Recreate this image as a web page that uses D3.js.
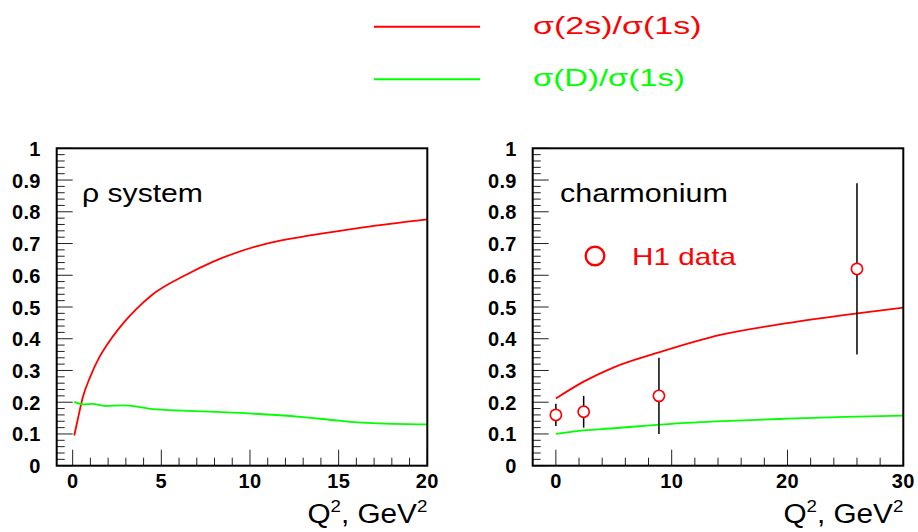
<!DOCTYPE html>
<html>
<head>
<meta charset="utf-8">
<script src="https://cdn.jsdelivr.net/npm/d3@7"></script>
<style>
  body { margin: 0; background: #fff; }
  svg { display: block; font-family: "Liberation Sans", Arial, Helvetica, sans-serif; }
</style>
</head>
<body>
<div id="chart"></div>
<script>
// rho system curves (Q^2 in GeV^2, ratio)
const rho2sQ = [0.09, 0.28, 0.58, 0.99, 1.47, 1.93, 2.69, 3.53, 4.47, 6.35, 7.93, 10.94, 13.57, 16.39, 20]
const rho2sR = [0.095, 0.144, 0.217, 0.28, 0.338, 0.38, 0.438, 0.49, 0.538, 0.6, 0.643, 0.7, 0.727, 0.751, 0.776]
const rhoDQ = [0.09, 0.62, 1.09, 1.84, 2.88, 3.64, 4.39, 6.46, 9.06, 12.82, 15, 16.6, 20]
const rhoDR = [0.201, 0.193, 0.195, 0.188, 0.19, 0.186, 0.179, 0.173, 0.167, 0.154, 0.142, 0.135, 0.13]

// charmonium curves
const psi2sQ = [0, 2.4, 5, 8.9, 14.2, 20, 25, 30]
const psi2sR = [0.212, 0.265, 0.31, 0.357, 0.412, 0.449, 0.475, 0.498]
const psiDQ = [0, 2, 5, 10, 15, 20, 25, 30]
const psiDR = [0.1, 0.11, 0.118, 0.132, 0.141, 0.148, 0.154, 0.158]

// H1 data points
const h1Q = [0, 2.4, 8.9, 26]
const h1R = [0.16, 0.17, 0.22, 0.62]
const h1Err = [0.035, 0.05, 0.12, 0.27]

const yTicks = [0, 0.1, 0.2, 0.3, 0.4, 0.5, 0.6, 0.7, 0.8, 0.9, 1]
const yTickLabels = ["0", "0.1", "0.2", "0.3", "0.4", "0.5", "0.6", "0.7", "0.8", "0.9", "1"]

const legendLabels = ["σ(2s)/σ(1s)", "σ(D)/σ(1s)"]
const RED = "#ff0000", GREEN = "#00ff00"

const W = 918, H = 532
const svg = d3.select("#chart").append("svg").attr("width", W).attr("height", H)

const zip = (xs, ys) => xs.map((x, i) => [x, ys[i]])

// stretch a text horizontally so it spans the wanted width (root fonts are wide)
function fit(sel, x, y, width, anchor) {
  const w = sel.node().getComputedTextLength()
  const s = width / w
  sel.attr("x", 0).attr("y", 0).attr("text-anchor", anchor || "start")
    .attr("transform", `translate(${x},${y}) scale(${s},1)`)
  return sel
}

function drawPanel(cfg) {
  const g = svg.append("g")
  const x = d3.scaleLinear().domain(cfg.xDomain).range([cfg.left, cfg.right])
  const y = d3.scaleLinear().domain([0, 1]).range([465.7, 148.3])

  // y ticks (inside frame)
  const yMinor = d3.range(0, 1.0001, 0.02)
  g.selectAll(".ymin").data(yMinor).join("line")
    .attr("x1", cfg.left).attr("x2", d => cfg.left + (Math.abs(d * 10 - Math.round(d * 10)) < 1e-6 ? 16 : 8))
    .attr("y1", d => y(d)).attr("y2", d => y(d))
    .attr("stroke", "#222").attr("stroke-width", 1)

  g.selectAll(".ylab").data(yTicks).join("text")
    .attr("x", cfg.left - 16).attr("y", d => y(d) + 7.5)
    .attr("text-anchor", "end")
    .attr("font-size", 20).attr("font-weight", "bold").attr("letter-spacing", 0.3)
    .text((d, i) => yTickLabels[i])

  // x ticks
  const xMinor = d3.range(0, cfg.xDomain[1] + 1e-6, cfg.minorStep)
  g.selectAll(".xmin").data(xMinor).join("line")
    .attr("x1", d => x(d)).attr("x2", d => x(d))
    .attr("y1", y(0)).attr("y2", d => y(0) - (Math.abs(d % cfg.majorStep) < 1e-6 ? 16 : 8))
    .attr("stroke", "#222").attr("stroke-width", 1)

  const xMajor = d3.range(0, cfg.xDomain[1] + 1e-6, cfg.majorStep)
  g.selectAll(".xlab").data(xMajor).join("text")
    .attr("x", d => x(d)).attr("y", 487.5)
    .attr("text-anchor", "middle")
    .attr("font-size", 20).attr("font-weight", "bold").attr("letter-spacing", 0.3)
    .text(d => d)

  // curves
  const line = d3.line().curve(d3.curveMonotoneX).x(d => x(d[0])).y(d => y(d[1]))
  cfg.curves.forEach(c => {
    g.append("path").datum(c.pts)
      .attr("d", line).attr("fill", "none")
      .attr("stroke", c.color).attr("stroke-width", 1.8)
  })

  // frame
  g.append("rect")
    .attr("x", cfg.left).attr("y", y(1))
    .attr("width", cfg.right - cfg.left).attr("height", y(0) - y(1))
    .attr("fill", "none").attr("stroke", "#000").attr("stroke-width", 2)

  // axis title
  const t = g.append("text").attr("font-size", 27)
  t.append("tspan").text("Q")
  t.append("tspan").attr("font-size", 17).attr("dy", -11).text("2")
  t.append("tspan").attr("dy", 11).text(", GeV")
  t.append("tspan").attr("font-size", 17).attr("dy", -11).text("2")
  fit(t, cfg.right, 523, 120, "end")

  // panel label
  const lab = g.append("text").attr("font-size", 25).text(cfg.label)
  fit(lab, cfg.labelX, 202, cfg.labelW)

  return { g, x, y }
}

drawPanel({
  left: 56.7, right: 427.3, xDomain: [-0.9, 20], minorStep: 1, majorStep: 5,
  label: "ρ system", labelX: 82, labelW: 121,
  curves: [
    { pts: zip(rho2sQ, rho2sR), color: RED },
    { pts: zip(rhoDQ, rhoDR), color: GREEN }
  ]
})

const right = drawPanel({
  left: 532.7, right: 903.3, xDomain: [-2, 30], minorStep: 2, majorStep: 10,
  label: "charmonium", labelX: 560, labelW: 168,
  curves: [
    { pts: zip(psi2sQ, psi2sR), color: RED },
    { pts: zip(psiDQ, psiDR), color: GREEN }
  ]
})

// H1 data with error bars
const pts = h1Q.map((q, i) => ({ q, r: h1R[i], e: h1Err[i] }))
right.g.selectAll(".err").data(pts).join("line")
  .attr("x1", d => right.x(d.q)).attr("x2", d => right.x(d.q))
  .attr("y1", d => right.y(d.r - d.e)).attr("y2", d => right.y(d.r + d.e))
  .attr("stroke", "#000").attr("stroke-width", 1.5)
right.g.selectAll(".pt").data(pts).join("circle")
  .attr("cx", d => right.x(d.q)).attr("cy", d => right.y(d.r))
  .attr("r", 5.6).attr("fill", "#fff")
  .attr("stroke", RED).attr("stroke-width", 1.7)

// H1 data legend inside panel
right.g.append("circle").attr("cx", 595).attr("cy", 256).attr("r", 9.3)
  .attr("fill", "none").attr("stroke", RED).attr("stroke-width", 2.4)
const h1 = right.g.append("text").attr("font-size", 23).attr("fill", RED).text("H1 data")
fit(h1, 632, 265, 104)

// top legend
const leg = svg.append("g")
const legY = [26.7, 79.3]
const legColors = [RED, GREEN]
const legW = [168.5, 152]
leg.selectAll("line").data(legendLabels).join("line")
  .attr("x1", 374).attr("x2", 480)
  .attr("y1", (d, i) => legY[i]).attr("y2", (d, i) => legY[i])
  .attr("stroke", (d, i) => legColors[i]).attr("stroke-width", 2)
leg.selectAll("text").data(legendLabels).join("text")
  .attr("font-size", 23).attr("fill", (d, i) => legColors[i])
  .text(d => d)
  .each(function (d, i) { fit(d3.select(this), 533, legY[i] + 6.8, legW[i]) })
</script>
</body>
</html>
